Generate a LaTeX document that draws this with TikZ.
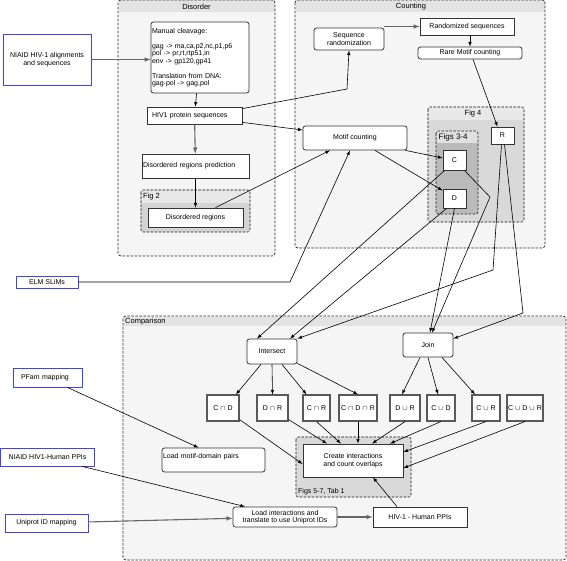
\documentclass[tikz,border=0pt]{standalone}
\usepackage{fontspec}
\setmainfont{Liberation Sans}
\begin{document}
\begin{tikzpicture}[
  x=1pt,y=-1pt,
  >=latex,
  every node/.style={font=\fontsize{7}{7.5}\selectfont},
  box/.style={draw=black!80,line width=0.8pt,fill=white,inner sep=1pt,align=center},
  rbox/.style={box,rounded corners=2.5pt},
  setbox/.style={box,draw=black!65,line width=1.1pt,minimum width=#1,minimum height=26pt},
  src/.style={draw=blue!75,line width=0.9pt,fill=white,inner sep=1pt,align=center},
  grp/.style={draw=black!85,line width=0.7pt,dash pattern=on 2.5pt off 1.5pt,rounded corners=3pt},
  figgrp/.style={draw=black!55,line width=1.1pt,dash pattern=on 2.5pt off 1.5pt,rounded corners=2.5pt},
  hdr/.style={font=\fontsize{7.5}{8}\selectfont},
  link/.style={->,black,line width=0.6pt},
  glink/.style={->,black!60,line width=1.1pt}
]
\useasboundingbox (0,0) rectangle (567,561);

% --- Groups ---
% Disorder
\fill[black!4,rounded corners=3pt] (118,0) rectangle (275,256);
\fill[black!11] (118.5,0.5) rectangle (274.5,12);
\draw[grp] (118,0) rectangle (275,256);
\node[hdr] (disT) at (196.5,6.5) {Disorder};
% Fig 2
\fill[black!17,rounded corners=2.5pt] (141,190) rectangle (250,232);
\fill[black!9] (141.5,190.5) rectangle (249.5,203);
\draw[figgrp] (141,190) rectangle (250,232);
\node[hdr,anchor=west,inner sep=1pt] (fig2T) at (142,196.5) {Fig 2};

% Counting
\fill[black!4,rounded corners=3pt] (295,0) rectangle (545,248);
\fill[black!11] (295.5,0.5) rectangle (544.5,12);
\draw[grp] (295,0) rectangle (545,248);
\node[hdr] (cntT) at (411,6.5) {Counting};
% Fig 4
\fill[black!15,rounded corners=2.5pt] (428,107) rectangle (524,222);
\fill[black!9] (428.5,107.5) rectangle (523.5,120);
\draw[figgrp] (428,107) rectangle (524,222);
\node[hdr] (fig4T) at (473,113.5) {Fig 4};
% Figs 3-4
\fill[black!27,rounded corners=2.5pt] (436,131) rectangle (478,214);
\fill[black!12] (436.5,131.5) rectangle (477.5,143);
\draw[grp,rounded corners=2.5pt] (436,131) rectangle (478,214);
\node[hdr,font=\fontsize{8}{9}\selectfont,anchor=west,inner sep=1pt] (fig34T) at (437.5,137.5) {Figs 3-4};

% Comparison
\fill[black!4,rounded corners=3pt] (123,316) rectangle (566,560);
\fill[black!11] (123.5,316.5) rectangle (565.5,326);
\draw[grp] (123,316) rectangle (566,560);
\node[hdr,anchor=west,inner sep=1pt] (cmpT) at (124,321.5) {Comparison};
% Figs 5-7
\fill[black!15,rounded corners=2.5pt] (296,437) rectangle (411,497);
\draw[figgrp] (296,437) rectangle (411,497);
\node[anchor=west,inner sep=1pt] (fig57T) at (297,491.5) {Figs 5-7, Tab 1};

% --- Nodes ---
% inputs
\node[src,minimum width=88pt,minimum height=51pt] (niaid) at (47,59.5) {NIAID HIV-1 alignments\\and sequences};
\node[src,minimum width=62pt,minimum height=12pt] (elm) at (47,282) {ELM SLiMs};
\node[src,minimum width=69pt,minimum height=19pt,inner xsep=8pt,text width=53pt,align=left] (pfam) at (47.5,377.5) {PFam mapping};
\node[src,minimum width=94pt,minimum height=18pt] (nppi) at (47.5,457) {NIAID HIV1-Human PPIs};
\node[src,minimum width=83pt,minimum height=18pt] (uni) at (46.5,523) {Uniprot ID mapping};

% disorder
\node[rbox,minimum height=71pt,text width=96pt,align=left] (cleave) at (200,57.5) {Manual cleavage:\\[7.5pt]
  gag -> ma,ca,p2,nc,p1,p6\\pol -> pr,rt,rtp51,in\\env -> gp120,gp41\\[7.5pt]
  Translation from DNA:\\gag-pol -> gag,pol};
\node[box,minimum height=17pt,inner xsep=5pt,text width=85pt,align=left] (prot) at (194.5,115.5) {HIV1 protein sequences};
\node[box,minimum height=24pt,text width=105pt,align=left] (pred) at (195.5,166) {Disordered regions prediction};
\node[box,minimum width=95pt,minimum height=19pt] (dreg) at (195.5,217.5) {Disordered regions};

% counting
\node[rbox,minimum width=70pt,minimum height=22pt] (rand) at (349,39) {Sequence\\randomization};
\node[box,minimum width=94pt,minimum height=17pt] (rseq) at (467,26.5) {Randomized sequences};
\node[rbox,minimum width=104pt,minimum height=12pt] (rare) at (470,53) {Rare Motif counting};
\node[rbox,minimum width=104pt,minimum height=24pt] (motif) at (355,138) {Motif counting};
\node[box,minimum width=23pt,minimum height=17pt] (R) at (502.5,135.5) {R};
\node[box,minimum width=23pt,minimum height=20pt] (C) at (454.5,160) {C};
\node[box,minimum width=23pt,minimum height=19pt] (D) at (454.5,198.5) {D};

% comparison
\node[rbox,minimum width=50pt,minimum height=25pt] (inter) at (272,351.5) {Intersect};
\node[rbox,minimum width=50pt,minimum height=24pt] (join) at (428,345) {Join};
\node[setbox=32pt] (cd)    at (223,408)   {C $\cap$ D};
\node[setbox=31pt] (dr)    at (272.5,408) {D $\cap$ R};
\node[setbox=27pt] (cr)    at (316.5,408) {C $\cap$ R};
\node[setbox=38pt] (cdr)   at (358,408)   {C $\cap$ D $\cap$ R};
\node[setbox=30pt] (dur)   at (405,408)   {D $\cup$ R};
\node[setbox=28pt] (cud)   at (441,408)   {C $\cup$ D};
\node[setbox=28pt] (cur)   at (486,408)   {C $\cup$ R};
\node[setbox=36pt] (cudur) at (525,408)   {C $\cup$ D $\cup$ R};
\node[box,minimum width=100pt,minimum height=33pt] (create) at (353,460.5) {Create interactions\\and count overlaps};
\node[rbox,minimum height=24pt,text width=101pt,align=left] (lmd) at (213.5,460) {Load motif-domain pairs\\~};
\node[rbox,minimum width=104pt,minimum height=20pt] (lint) at (285,517) {Load interactions and\\translate to use Uniprot IDs};
\node[box,minimum width=94pt,minimum height=20pt] (ppi) at (420,517) {HIV-1 - Human PPIs};

% --- Arrows ---
% disorder chain
\draw[glink] (niaid) -- (cleave.west |- niaid);
\draw[link] (cleave) -- (prot);
\draw[glink] (prot) -- (pred);
\draw[link] (pred) -- (dreg);
% into counting
\draw[link] ([yshift=-2pt]prot.north east) -- (347,89) -- (rand.south);
\draw[link] ([yshift=2pt]prot.south east) -- ([yshift=8pt]motif.west);
\draw[link] ([xshift=20pt]dreg.north) -- ([xshift=-25pt]motif.south);
\draw[link] (elm) -- (290,282) -- ([xshift=-5pt]motif.south);
\draw[glink] (rand.east |- rseq) -- (rseq.west);
\draw[link] ([xshift=3pt]rseq.south) -- ([xshift=0pt]rare.north);
\draw[link] ([xshift=3pt]rare.south) -- ([xshift=-5pt]R.north);
\draw[link] ([xshift=-2pt]motif.south east) -- ([yshift=2pt]C.west);
\draw[link] ([xshift=20pt]motif.south) -- ([yshift=-2pt]D.north west);
% counting -> comparison
\draw[link] ([xshift=2pt]C.south west) -- ([xshift=-15pt]inter.north);
\draw[link] ([xshift=4pt]D.south west) -- ([xshift=18pt]inter.north);
\draw[link] ([xshift=-1pt]R.south) -- (493,270) -- (inter.north east);
\draw[link] ([xshift=-2pt]C.south east) -- (490,197) -- ([xshift=4pt]join.north);
\draw[link] (D.south) -- ([xshift=2pt]join.north);
\draw[link] ([xshift=2pt]R.south) -- (523,313) -- ([yshift=-6pt]join.north east);
% intersect / join
\draw[link] ([xshift=-11pt]inter.south) -- ([xshift=13pt]cd.north);
\draw[link] (inter.south) -- (dr.north);
\draw[link] ([xshift=10pt]inter.south) -- ([xshift=-10pt]cr.north);
\draw[link] ([yshift=1pt]inter.south east) -- (cdr.north);
\draw[link] ([xshift=-8pt]join.south) -- ([xshift=-3pt]dur.north);
\draw[link] (join.south) -- ([xshift=-3pt]cud.north);
\draw[link] ([xshift=14pt]join.south) -- ([xshift=-11pt]cur.north);
% sets -> create
\draw[link] ([yshift=2pt]cd.south east) -- ([yshift=-3.5pt]create.west);
\draw[link] ([yshift=2pt]dr.south east) -- ([xshift=-26pt]create.north);
\draw[link] (cr.south) -- ([xshift=-12pt]create.north);
\draw[link] (cdr.south) -- ([xshift=5pt]create.north);
\draw[link] (dur.south) -- ([xshift=19pt]create.north);
\draw[link] (cud.south) -- ([xshift=37pt]create.north);
\draw[link] (cur.south) -- ([yshift=8.5pt]create.east);
\draw[link] (cudur.south) -- ([yshift=-7.5pt]create.east);
\draw[link] ([xshift=-23pt]ppi.north) -- ([xshift=20pt]create.south);
% side inputs
\draw[link] ([xshift=20pt]pfam.south) -- ([xshift=-15pt]lmd.north);
\draw[link] ([xshift=35pt]nppi.south) -- ([xshift=-40pt]lint.north);
\draw[glink] (uni) -- (lint);
\draw[glink] (lint) -- (ppi);

\end{tikzpicture}
\end{document}
